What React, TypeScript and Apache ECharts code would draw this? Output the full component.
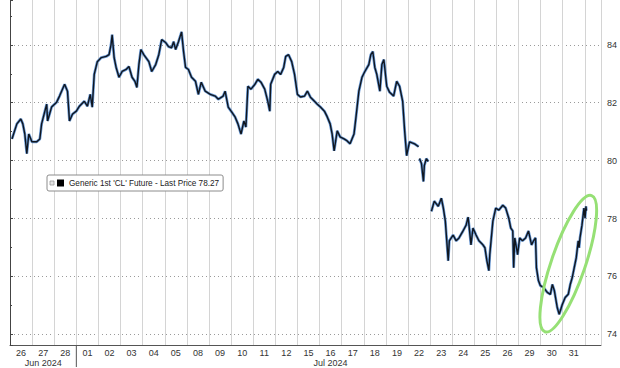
import React, { useEffect, useRef } from "react";
import * as echarts from "echarts";

// Trading-day labels (Jun 26 – Jul 31, 2024)
const dayLabels = ["26", "27", "28", "01", "02", "03", "04", "05", "08", "09", "10", "11", "12", "15", "16", "17", "18", "19", "22", "23", "24", "25", "26", "29", "30", "31"];
const monthLabels = ["Jun 2024", "Jul 2024"];
const monthLabelDay = [1, 14];
const monthStartDay = [3];

// Position in trading days since Jun 26 open (fractional), null price = gap
const times = [
  0.09, 0.31, 0.49, 0.58, 0.67, 0.76, 0.85, 0.99, 1.21, 1.35, 1.43, 1.66, 1.7, 1.88, 2.11, 2.24, 2.47, 2.6, 2.69, 2.83,
  3.0, 3.14, 3.36, 3.5, 3.63, 3.72, 3.81, 3.95, 4.13, 4.35, 4.48, 4.57, 4.62, 4.71, 4.8, 4.93, 5.07, 5.25, 5.38, 5.52,
  5.65, 5.74, 5.83, 5.92, 6.05, 6.28, 6.41, 6.59, 6.73, 6.86, 7.04, 7.17, 7.31, 7.4, 7.49, 7.62, 7.76, 7.85, 7.94, 8.07,
  8.21, 8.39, 8.52, 8.65, 8.83, 9.06, 9.28, 9.42, 9.64, 9.73, 9.87, 10.0, 10.18, 10.31, 10.45, 10.58, 10.67, 10.76, 10.9, 11.08,
  11.21, 11.35, 11.52, 11.66, 11.75, 11.79, 11.97, 12.11, 12.24, 12.38, 12.47, 12.6, 12.74, 12.87, 13.0, 13.14, 13.32, 13.45, 13.59, 13.77,
  13.9, 14.04, 14.22, 14.35, 14.48, 14.57, 14.66, 14.8, 14.93, 15.11, 15.25, 15.38, 15.56, 15.65, 15.78, 15.92, 16.05, 16.23, 16.32, 16.41,
  16.5, 16.59, 16.73, 16.82, 16.91, 17.04, 17.17, 17.35, 17.49, 17.62, 17.76, 17.85, 17.94, 18.07, 18.3, 18.48, 18.5, 18.52, 18.61, 18.7,
  18.74, 18.83, 18.92, 19.0, 19.06, 19.19, 19.37, 19.51, 19.6, 19.69, 19.82, 19.87, 20.04, 20.18, 20.31, 20.49, 20.63, 20.72, 20.76, 20.85,
  20.94, 21.08, 21.21, 21.39, 21.48, 21.57, 21.66, 21.7, 21.84, 21.97, 22.11, 22.29, 22.42, 22.56, 22.65, 22.74, 22.78, 22.83, 22.96, 23.05,
  23.18, 23.32, 23.45, 23.59, 23.68, 23.77, 23.81, 23.9, 23.99, 24.13, 24.3, 24.44, 24.53, 24.62, 24.75, 24.84, 24.98, 25.11, 25.25, 25.34,
  25.43, 25.52, 25.61, 25.7, 25.74, 25.78, 25.87, 25.96, 26.01, 26.05, 26.07,
];
const prices = [
  80.75, 81.27, 81.44, 81.27, 80.92, 80.24, 80.92, 80.65, 80.65, 80.75, 81.27, 81.95, 81.37, 81.85, 82.02, 82.23, 82.64, 82.4, 81.37, 81.61,
  81.71, 81.88, 82.05, 81.88, 82.29, 81.85, 82.98, 83.42, 83.56, 83.6, 83.66, 84.01, 84.35, 83.56, 83.22, 82.88, 83.08, 83.15, 83.25, 82.88,
  82.74, 82.53, 83.32, 83.84, 83.66, 83.42, 83.08, 83.32, 83.66, 84.18, 84.08, 83.94, 83.9, 84.11, 83.84, 84.11, 84.45, 83.77, 83.22, 83.15,
  82.88, 82.74, 82.29, 82.71, 82.4, 82.29, 82.23, 82.12, 82.23, 82.4, 81.85, 81.71, 81.51, 81.27, 80.92, 81.37, 81.16, 82.57, 82.47, 82.64,
  82.81, 82.71, 82.47, 82.05, 81.71, 82.64, 82.98, 83.08, 82.98, 83.22, 83.6, 83.66, 83.42, 82.98, 82.29, 82.2, 82.23, 82.4, 82.19, 82.05,
  81.95, 81.85, 81.71, 81.51, 81.27, 80.92, 80.34, 81.03, 80.82, 80.75, 80.68, 80.58, 80.92, 81.51, 82.4, 82.88, 83.08, 83.32, 83.66, 83.77,
  83.22, 82.98, 82.4, 83.32, 83.49, 82.57, 82.36, 82.23, 82.74, 82.57, 82.05, 81.03, 80.17, 80.65, 80.58, 80.48, null, 80.07, 79.9, 79.28,
  79.83, 80.07, 79.97, null, 78.25, 78.6, 78.42, 78.7, 78.36, 77.91, 76.54, 77.23, 77.43, 77.23, 77.33, 77.57, 77.77, 78.05, 77.77, 77.09,
  77.67, 77.43, 77.23, 77.09, 76.99, 76.54, 76.2, 76.75, 77.91, 78.36, 78.29, 78.46, 78.36, 78.01, 77.67, 77.57, 76.3, 77.33, 76.75, 77.33,
  77.23, 77.33, 77.57, 77.09, 77.23, 77.33, 76.3, 75.86, 75.68, 75.62, 75.45, 75.38, 75.72, 75.51, 74.93, 74.69, 75.03, 75.27, 75.38, 75.72,
  75.96, 76.3, 76.64, 77.23, 76.99, 77.33, 77.77, 78.36, 78.01, 78.42, 78.27,
];

const seriesName = "Generic 1st 'CL' Future - Last Price 78.27";
const lastPrice = 78.27;
const highlightCenter = [25.25, 76.44];

const X_MIN = 0;
const X_MAX = 26.73;
const Y_MIN = 73.63;
const Y_MAX = 85.55;

export default function App() {
  const ref = useRef<HTMLDivElement>(null);

  useEffect(() => {
    if (!ref.current) return;
    const chart = echarts.init(ref.current, undefined, { renderer: "svg" });
    const data = times.map((t, i) => [t, prices[i] === null ? "-" : prices[i]]);
    const font = "'Liberation Sans', Arial, sans-serif";

    chart.setOption({
      animation: false,
      backgroundColor: "#ffffff",
      grid: { left: 10, right: 14, top: 0, bottom: 20 },
      legend: {
        show: true,
        left: 47,
        top: 175,
        data: [{ name: seriesName, icon: "rect", itemStyle: { color: "#000" } }],
        itemWidth: 7,
        itemHeight: 7,
        itemGap: 3,
        padding: [4, 4, 4, 10],
        backgroundColor: "#ffffff",
        borderColor: "#8c8c8c",
        borderWidth: 1,
        borderRadius: 2,
        selectedMode: false,
        textStyle: { fontSize: 8.2, color: "#222", fontFamily: font },
      },
      xAxis: [
        {
          type: "value",
          min: X_MIN,
          max: X_MAX,
          interval: 1,
          position: "bottom",
          axisLine: { show: true, onZero: false, lineStyle: { color: "#555", width: 1 } },
          axisTick: { show: false },
          axisLabel: { show: false },
          splitLine: { show: true, lineStyle: { color: "#d4d4d4", width: 1 } },
        },
        {
          type: "value",
          min: X_MIN,
          max: X_MAX,
          interval: 0.5,
          position: "bottom",
          axisLine: { show: false },
          axisTick: { show: false },
          splitLine: { show: false },
          axisLabel: {
            show: true,
            margin: 3,
            fontSize: 9,
            lineHeight: 10,
            color: "#333",
            fontFamily: font,
            showMinLabel: true,
            showMaxLabel: true,
            formatter: (v: number) => {
              const r = Math.round(v * 2) / 2;
              if (Math.abs(r - Math.floor(r) - 0.5) > 0.01) return "";
              const idx = Math.floor(r);
              const lbl = dayLabels[idx];
              if (lbl === undefined) return "";
              const m = monthLabelDay.indexOf(idx);
              return m >= 0 ? lbl + "\n" + monthLabels[m] : lbl;
            },
          },
        },
      ],
      yAxis: {
        type: "value",
        position: "right",
        min: Y_MIN,
        max: Y_MAX,
        splitNumber: 5,
        axisLine: { show: true, lineStyle: { color: "#444", width: 1 } },
        axisTick: { show: true, length: 3, lineStyle: { color: "#444" } },
        minorTick: { show: true, splitNumber: 2, length: 2, lineStyle: { color: "#444" } },
        axisLabel: { show: true, margin: 6, fontSize: 9, color: "#333", fontFamily: font, showMinLabel: false, showMaxLabel: false },
        splitLine: {
          show: true,
          showMinLine: false,
          showMaxLine: false,
          lineStyle: { color: "#9a9a9a", type: [1, 3], width: 1 },
        },
      },
      series: [
        {
          name: "halo",
          type: "line",
          data,
          showSymbol: false,
          symbol: "none",
          connectNulls: false,
          lineStyle: { color: "#6a9ad6", width: 2.8 },
          silent: true,
          z: 2,
        },
        {
          name: seriesName,
          type: "line",
          data,
          showSymbol: false,
          symbol: "none",
          connectNulls: false,
          itemStyle: { color: "#000" },
          lineStyle: { color: "#10161f", width: 1.4 },
          z: 3,
          markLine: {
            silent: true,
            symbol: "none",
            lineStyle: { opacity: 0, width: 0 },
            label: {
              show: true,
              position: "end",
              distance: 2,
              formatter: lastPrice.toFixed(2),
              backgroundColor: "#111",
              color: "#fff",
              borderRadius: 4,
              padding: [1, 3],
              fontSize: 8,
              fontFamily: font,
            },
            data: [{ yAxis: lastPrice }],
          },
        },
      ],
    });

    const center = chart.convertToPixel({ xAxisIndex: 0, yAxisIndex: 0 }, highlightCenter) as number[];
    const bottomY = chart.convertToPixel({ yAxisIndex: 0 }, Y_MIN) as number;
    const sepX = monthStartDay.map((d) => chart.convertToPixel({ xAxisIndex: 0 }, d) as number);

    chart.setOption({
      graphic: [
        {
          type: "ellipse",
          x: center[0],
          y: center[1],
          rotation: -0.33,
          shape: { cx: 0, cy: 0, rx: 17, ry: 72 },
          style: { fill: "none", stroke: "#96e075", lineWidth: 3 },
          z: 10,
        },
        ...sepX.map((x) => ({
          type: "line",
          shape: { x1: x, y1: bottomY, x2: x, y2: bottomY + 22 },
          style: { stroke: "#555", lineWidth: 1 },
          z: 10,
        })),
        {
          type: "rect",
          shape: { x: 50, y: 181, width: 4, height: 4 },
          style: { fill: "#e4e4e4", stroke: "#9a9a9a", lineWidth: 0.8 },
          z: 100,
        },
      ],
    });

    return () => chart.dispose();
  }, []);

  return <div ref={ref} style={{ position: "fixed", left: 0, top: 0, width: 620, height: 368 }} />;
}
